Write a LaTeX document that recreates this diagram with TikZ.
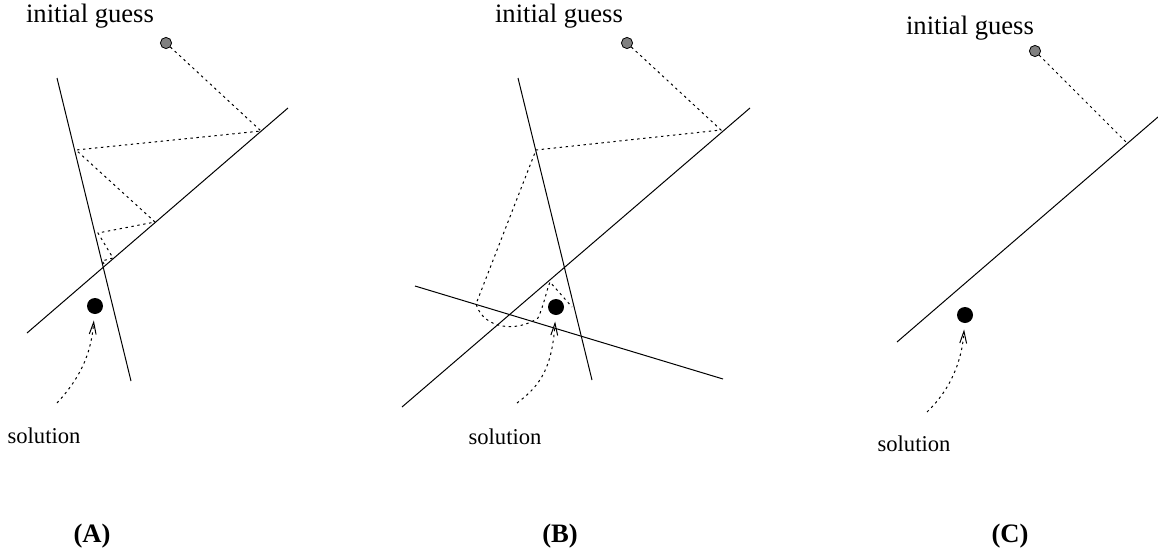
\documentclass[tikz,border=0pt]{standalone}
\usepackage{fontspec}
\setmainfont{Liberation Serif}
\usetikzlibrary{arrows.meta}
\definecolor{guessgray}{HTML}{808080}

\begin{document}
\begin{tikzpicture}[
  x=0.5pt, y=-0.5pt,
  line width=0.5pt,
  guess/.style={circle,draw=black,line width=0.4pt,fill=guessgray,inner sep=0pt,minimum size=5.6pt},
  sol/.style={circle,fill=black,inner sep=0pt,minimum size=8pt},
  lbl/.style={inner sep=0pt,font=\fontsize{13.3}{15}\selectfont},
  sollbl/.style={inner sep=0pt,font=\fontsize{11.3}{13}\selectfont},
  panel/.style={inner sep=0pt,font=\fontsize{13.3}{15}\selectfont\bfseries},
  proj/.style={dash pattern=on 1.2pt off 1.8pt},
  solarrow/.style={dash pattern=on 1.2pt off 1.8pt,-{Straight Barb[length=6pt,width=3.4pt]},shorten >=3pt}
]
\useasboundingbox (0,0) rectangle (1158,552);

% panel (A): two constraints
\node[lbl] (igA) at (90,16) {initial guess};
\node[guess] (gA) at (166,43) {};
\node[sol] (sA) at (95,306) {};
\coordinate (a1) at (57,78);  \coordinate (a2) at (131,381);
\coordinate (a3) at (27,333); \coordinate (a4) at (288,108);
\draw (a1) -- (a2);
\draw (a3) -- (a4);
\coordinate (pa1) at (261,131); \coordinate (pa2) at (76,150);
\coordinate (pa3) at (155,222); \coordinate (pa4) at (98,233);
\coordinate (pa5) at (113,258); \coordinate (pa6) at (102,261);
\coordinate (pa7) at (105,265);
\draw[proj] (gA) -- (pa1) -- (pa2) -- (pa3) -- (pa4) -- (pa5) -- (pa6) -- (pa7);
\node[sollbl] (tA) at (44,436) {solution};
\coordinate (fA) at (57,403);
\draw[solarrow] (fA) .. controls (80,378) and (91,355) .. (sA);
\node[panel] (pA) at (92,536) {(A)};

% panel (B): three constraints
\node[lbl] (igB) at (559,16) {initial guess};
\node[guess] (gB) at (627,43) {};
\node[sol] (sB) at (556,307) {};
\coordinate (b1) at (518,78);  \coordinate (b2) at (592,380);
\coordinate (b3) at (402,407); \coordinate (b4) at (750,108);
\coordinate (b5) at (415,286); \coordinate (b6) at (723,379);
\draw (b1) -- (b2);
\draw (b3) -- (b4);
\draw (b5) -- (b6);
\coordinate (pb1) at (721,130); \coordinate (pb2) at (536,150);
\coordinate (pb3) at (476,304); \coordinate (pb4) at (538,318);
\coordinate (pb5) at (550,282); \coordinate (pb6) at (572,307);
\draw[proj] (gB) -- (pb1) -- (pb2) -- (pb3)
  .. controls (484,330) and (518,332) .. (pb4)
  .. controls (544,305) and (546,292) .. (pb5) -- (pb6);
\node[sollbl] (tB) at (505,437) {solution};
\coordinate (fB) at (517,403);
\draw[solarrow] (fB) .. controls (537,388) and (552,372) .. (sB);
\node[panel] (pB) at (560,536) {(B)};

% panel (C): one constraint
\node[lbl] (igC) at (970,28) {initial guess};
\node[guess] (gC) at (1035,51) {};
\node[sol] (sC) at (965,315) {};
\coordinate (c1) at (897,342); \coordinate (c2) at (1158,117);
\draw (c1) -- (c2);
\coordinate (pc1) at (1127,143);
\draw[proj] (gC) -- (pc1);
\node[sollbl] (tC) at (914,444) {solution};
\coordinate (fC) at (927,412);
\draw[solarrow] (fC) .. controls (950,390) and (962,362) .. (sC);
\node[panel] (pC) at (1010,536) {(C)};
\end{tikzpicture}
\end{document}
